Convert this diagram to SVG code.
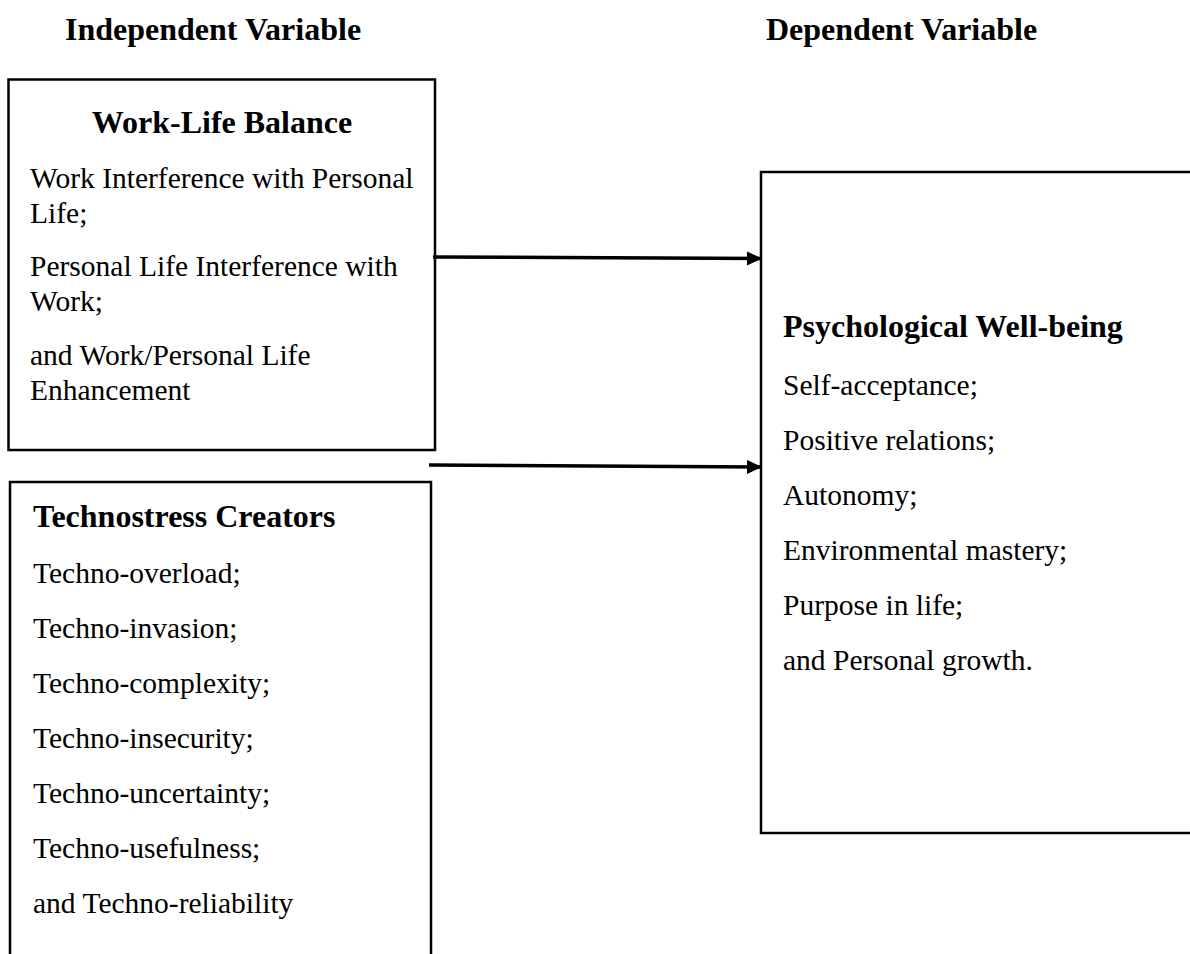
<svg xmlns="http://www.w3.org/2000/svg" width="1190" height="954" viewBox="0 0 1190 954">
<style>
.box{fill:#fff;stroke:#000;stroke-width:2.5}
.hd{font-family:"Liberation Serif",serif;font-weight:bold;font-size:32px;fill:#000}
.tx{font-family:"Liberation Serif",serif;font-size:29.5px;fill:#000}
.arr{stroke:#000;stroke-width:3.5;fill:none}
</style>
<defs>
<marker id="ah" markerUnits="userSpaceOnUse" markerWidth="16" markerHeight="16" refX="15" refY="7" orient="auto">
<path d="M0,0 L15,7 L0,14 Z" fill="#000"/>
</marker>
</defs>
<rect width="1190" height="954" fill="#fff"/>
<g id="headers">
<text class="hd" x="65" y="40">Independent Variable</text>
<text class="hd" x="766" y="40">Dependent Variable</text>
</g>
<g id="work-life-balance">
<rect class="box" x="8.5" y="79.5" width="426.5" height="370.5"/>
<text class="hd" x="222" y="133" text-anchor="middle">Work-Life Balance</text>
<text class="tx" x="30" y="188">Work Interference with Personal</text>
<text class="tx" x="30" y="223">Life;</text>
<text class="tx" x="30" y="276">Personal Life Interference with</text>
<text class="tx" x="30" y="311">Work;</text>
<text class="tx" x="30" y="365">and Work/Personal Life</text>
<text class="tx" x="30" y="400">Enhancement</text>
</g>
<g id="technostress-creators">
<rect class="box" x="10" y="482" width="421" height="500"/>
<text class="hd" x="33" y="527">Technostress Creators</text>
<text class="tx" x="33" y="583">Techno-overload;</text>
<text class="tx" x="33" y="638">Techno-invasion;</text>
<text class="tx" x="33" y="693">Techno-complexity;</text>
<text class="tx" x="33" y="748">Techno-insecurity;</text>
<text class="tx" x="33" y="803">Techno-uncertainty;</text>
<text class="tx" x="33" y="858">Techno-usefulness;</text>
<text class="tx" x="33" y="913">and Techno-reliability</text>
</g>
<g id="psychological-well-being">
<rect class="box" x="761" y="172" width="460" height="661"/>
<text class="hd" x="783" y="337">Psychological Well-being</text>
<text class="tx" x="783" y="395">Self-acceptance;</text>
<text class="tx" x="783" y="450">Positive relations;</text>
<text class="tx" x="783" y="505">Autonomy;</text>
<text class="tx" x="783" y="560">Environmental mastery;</text>
<text class="tx" x="783" y="615">Purpose in life;</text>
<text class="tx" x="783" y="670">and Personal growth.</text>
</g>
<g id="connectors">
<line class="arr" x1="433" y1="257" x2="762" y2="258.5" marker-end="url(#ah)"/>
<line class="arr" x1="429" y1="465" x2="762" y2="467" marker-end="url(#ah)"/>
</g>
</svg>
